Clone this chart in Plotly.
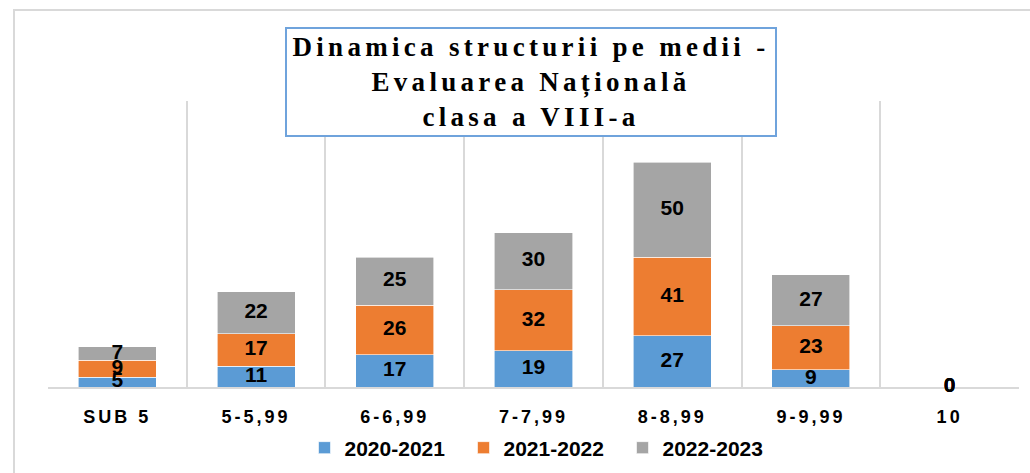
import plotly.graph_objects as go

categories = ["SUB 5", "5-5,99", "6-6,99", "7-7,99", "8-8,99", "9-9,99", "10"]
series_names = ["2020-2021", "2021-2022", "2022-2023"]
v_2020_2021 = [5, 11, 17, 19, 27, 9, 0]
v_2021_2022 = [9, 17, 26, 32, 41, 23, 0]
v_2022_2023 = [7, 22, 25, 30, 50, 27, 0]
colors = ["#5B9BD5", "#ED7D31", "#A5A5A5"]
title_lines = ["Dinamica structurii pe medii -", "Evaluarea Națională", "clasa a VIII-a"]

W, H = 1030, 473
L, R, T, B = 48, 11, 101, 86
pw, ph = W - L - R, H - T - B


def px_x(x):
    return (x - L) / pw


def px_y(y):
    return (H - B - y) / ph


series = [v_2020_2021, v_2021_2022, v_2022_2023]
fig = go.Figure()
for name, vals, col in zip(series_names, series, colors):
    fig.add_trace(go.Bar(
        x=categories, y=vals, name=name,
        marker=dict(color=col, line=dict(color="white", width=0.6)),
        hoverinfo="skip",
    ))

# value labels drawn on top of all bars, centred on each stacked segment
base = [0] * len(categories)
for vals in series:
    mids = [b + v / 2 for b, v in zip(base, vals)]
    fig.add_trace(go.Scatter(
        x=categories, y=mids, mode="text", text=[str(v) for v in vals],
        textposition="middle center", showlegend=False, hoverinfo="skip",
        textfont=dict(family="Liberation Sans", size=21, color="black", weight="bold"),
        cliponaxis=False,
    ))
    base = [b + v for b, v in zip(base, vals)]

spaced_ticks = ['<span style="letter-spacing:3px">%s</span>' % c for c in categories]

fig.update_layout(
    width=W, height=H,
    margin=dict(l=L, r=R, t=T, b=B, autoexpand=False),
    barmode="stack", bargap=0.4375,
    paper_bgcolor="white", plot_bgcolor="white",
    showlegend=True,
    legend=dict(
        orientation="h", xanchor="center", x=px_x(543), yanchor="middle", y=px_y(448),
        font=dict(family="Liberation Sans", size=21, color="black", weight="bold"),
        entrywidth=114, entrywidthmode="pixels", traceorder="normal",
        itemclick=False, itemdoubleclick=False,
    ),
    xaxis=dict(
        type="category", tickson="boundaries", layer="below traces",
        tickvals=categories, ticktext=spaced_ticks,
        showgrid=True, gridcolor="#D9D9D9", gridwidth=1.5,
        showline=True, linecolor="#D9D9D9", linewidth=2,
        ticks="", ticklabelstandoff=12, automargin=False,
        tickfont=dict(family="Liberation Sans", size=18, color="black", weight="bold"),
        range=[-0.5, 6.5], fixedrange=True,
    ),
    yaxis=dict(range=[0, 150], showgrid=False, showticklabels=False, zeroline=False,
               showline=False, ticks="", fixedrange=True, automargin=False),
    shapes=[dict(type="rect", xref="paper", yref="paper",
                 x0=px_x(14), x1=px_x(1040), y0=px_y(480), y1=px_y(10),
                 line=dict(color="#D9D9D9", width=2), layer="below")],
    annotations=[dict(
        xref="paper", yref="paper", x=px_x(531), y=px_y(82),
        xanchor="center", yanchor="middle", showarrow=False,
        text="<br>".join('<span style="letter-spacing:4.3px">%s</span>' % t for t in title_lines),
        font=dict(family="Liberation Serif", size=27, color="black", weight="bold"),
        align="center", width=488, height=106,
        bordercolor="#6FA3DC", borderwidth=2, borderpad=0, bgcolor="white",
    )],
)

fig.write_html("out.html", config={"displayModeBar": False},
               post_script="document.body.style.margin='0px';document.body.style.overflow='hidden';")
